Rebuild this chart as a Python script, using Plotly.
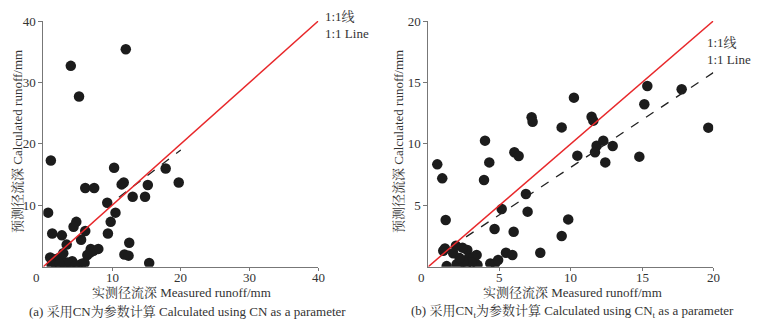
import plotly.graph_objects as go

# ---- data: panel (a) CN ----
a_measured = [12.0, 4.0, 5.2, 1.1, 10.3, 17.8, 19.7, 6.1, 7.4, 11.4, 11.7, 15.2, 13.0, 14.8,
              9.3, 10.5, 9.8, 0.7, 4.8, 4.4, 1.3, 2.7, 6.1, 5.5, 9.4, 12.5, 3.4, 6.9, 7.3,
              8.0, 6.4, 11.8, 12.4, 15.4, 1.0, 1.7, 2.4, 2.9, 1.2, 1.9, 3.1, 4.0, 5.0, 6.0,
              4.2, 3.5, 2.4, 6.8, 2.9, 5.6, 4.6]
a_calculated = [35.4, 32.7, 27.7, 17.3, 16.1, 16.0, 13.7, 12.8, 12.8, 13.4, 13.7, 13.3, 11.4, 11.4,
                10.4, 8.8, 7.3, 8.8, 7.3, 6.5, 5.4, 5.1, 5.8, 4.4, 5.4, 3.9, 3.6, 2.9, 2.6,
                2.9, 1.9, 2.0, 1.8, 0.6, 1.5, 1.2, 1.5, 0.8, 0.3, 0.1, 0.3, 0.4, 0.2, 0.6,
                0.9, 0.7, 0.4, 2.3, 2.2, 0.5, 0.1]
a_fit_x = [11.0, 20.0]
a_fit_y = [11.3, 19.0]
a_line = [0, 40]

# ---- data: panel (b) CN_t ----
b_measured = [0.63, 0.98, 1.22, 3.98, 4.28, 3.91, 7.25, 7.32, 6.04, 6.34, 6.85, 6.97, 5.15, 4.65,
              5.99, 9.36, 10.22, 10.46, 9.82, 9.36, 7.86, 11.46, 11.58, 11.81, 11.70, 12.28,
              12.94, 12.42, 14.81, 15.16, 15.37, 17.78, 19.65, 1.05, 1.17, 1.94, 1.75, 2.74,
              2.40, 3.39, 2.81, 3.16, 1.29, 2.64, 1.99, 3.45, 3.05, 4.35, 4.68, 4.90, 5.45,
              5.90, 2.46, 2.20]
b_calculated = [8.33, 7.19, 3.80, 10.26, 8.49, 7.06, 12.16, 11.80, 9.31, 9.01, 5.92, 4.48, 4.69, 3.07,
                2.85, 11.34, 13.76, 9.04, 3.85, 2.50, 1.14, 12.21, 11.89, 9.85, 9.31, 10.26,
                9.82, 8.49, 8.96, 13.22, 14.71, 14.44, 11.32, 1.30, 1.49, 1.70, 1.09, 1.36,
                1.55, 0.95, 0.68, 0.76, 0.05, 0.05, 0.20, 0.15, 0.35, 0.27, 0.27, 0.54, 1.14,
                0.95, 0.41, 0.70]
b_fit_x = [1.6, 20.0]
b_fit_y = [1.62, 15.8]
b_line = [0, 20]

a_ticks = [10, 20, 30, 40]
b_ticks = [5, 10, 15, 20]

FONT = "Liberation Serif, Noto Serif CJK SC, Noto Sans CJK SC, serif"
TXT = "#333333"
AX = "#777777"
RED = "#e8282b"
DOT = "#1c1c1c"

W, H = 758, 327

fig = go.Figure()

# panel a
fig.add_trace(go.Scatter(x=a_measured, y=a_calculated, mode="markers",
                         marker=dict(size=10.5, color=DOT), xaxis="x", yaxis="y", showlegend=False))
fig.add_trace(go.Scatter(x=a_fit_x, y=a_fit_y, mode="lines",
                         line=dict(color="#222222", width=1.3, dash="dash"), xaxis="x", yaxis="y", showlegend=False))
fig.add_trace(go.Scatter(x=a_line, y=a_line, mode="lines",
                         line=dict(color=RED, width=1.5), xaxis="x", yaxis="y", showlegend=False))
# panel b
fig.add_trace(go.Scatter(x=b_measured, y=b_calculated, mode="markers",
                         marker=dict(size=10.5, color=DOT), xaxis="x2", yaxis="y2", showlegend=False))
fig.add_trace(go.Scatter(x=b_fit_x, y=b_fit_y, mode="lines",
                         line=dict(color="#222222", width=1.3, dash="dash"), xaxis="x2", yaxis="y2", showlegend=False))
fig.add_trace(go.Scatter(x=b_line, y=b_line, mode="lines",
                         line=dict(color=RED, width=1.5), xaxis="x2", yaxis="y2", showlegend=False))

def px_x(p):
    return p / W

def px_y(p):
    return 1 - p / H

axis_common = dict(showgrid=False, zeroline=False, showline=True, linecolor=AX, linewidth=1,
                   ticks="outside", tickcolor=AX, tickwidth=1, automargin=False,
                   tickfont=dict(family=FONT, size=13, color=TXT))

fig.update_layout(
    template="none",
    width=W, height=H, margin=dict(l=0, r=0, t=0, b=0, pad=0, autoexpand=False),
    paper_bgcolor="white", plot_bgcolor="white",
    xaxis=dict(domain=[px_x(43.3), px_x(318.3)], range=[0, 40], tickvals=a_ticks, showticklabels=False,
               ticklen=3, anchor="y", **axis_common),
    yaxis=dict(domain=[px_y(266.7), px_y(21)], range=[0, 40], tickvals=a_ticks, ticklen=4,
               anchor="x", **axis_common),
    xaxis2=dict(domain=[px_x(428.3), px_x(713.3)], range=[0, 20], tickvals=b_ticks, showticklabels=False,
                ticklen=3, anchor="y2", **axis_common),
    yaxis2=dict(domain=[px_y(266.7), px_y(21)], range=[0, 20], tickvals=b_ticks, ticklen=4,
                anchor="x2", **axis_common),
)

def ann(text, x, y, xanchor="center", angle=0, size=13, xref="paper"):
    fig.add_annotation(text=text, x=(px_x(x) if xref == "paper" else x), y=px_y(y),
                       xref=xref, yref="paper",
                       xanchor=xanchor, yanchor="middle", showarrow=False, textangle=angle,
                       font=dict(family=FONT, size=size, color=TXT))

# x tick labels (placed close to the axis as in the reference)
for t in a_ticks:
    ann(str(t), t, 277, xref="x")
for t in b_ticks:
    ann(str(t), t, 277, xref="x2")
# origin labels
ann("0", 36, 277)
ann("0", 421.7, 277)
# axis titles
ann("预测径流深 Calculated runoff/mm", 17, 142, angle=-90)
ann("预测径流深 Calculated runoff/mm", 398, 142, angle=-90)
ann("实测径流深 Measured runoff/mm", 181, 292)
ann("实测径流深 Measured runoff/mm", 572, 292)
# captions
ann("(a) 采用CN为参数计算 Calculated using CN as a parameter", 187, 311, size=13)
ann("(b) 采用CN<sub>t</sub>为参数计算 Calculated using CN<sub>t</sub> as a parameter", 572, 311, size=13)
# 1:1 line labels
ann("1:1线", 323, 17, xanchor="left")
ann("1:1 Line", 323, 34, xanchor="left")
ann("1:1线", 705, 42, xanchor="left")
ann("1:1 Line", 705, 59, xanchor="left")

fig.write_html("out.html", config={"displayModeBar": False},
               post_script="document.body.style.margin='0';document.body.style.overflow='hidden';")
